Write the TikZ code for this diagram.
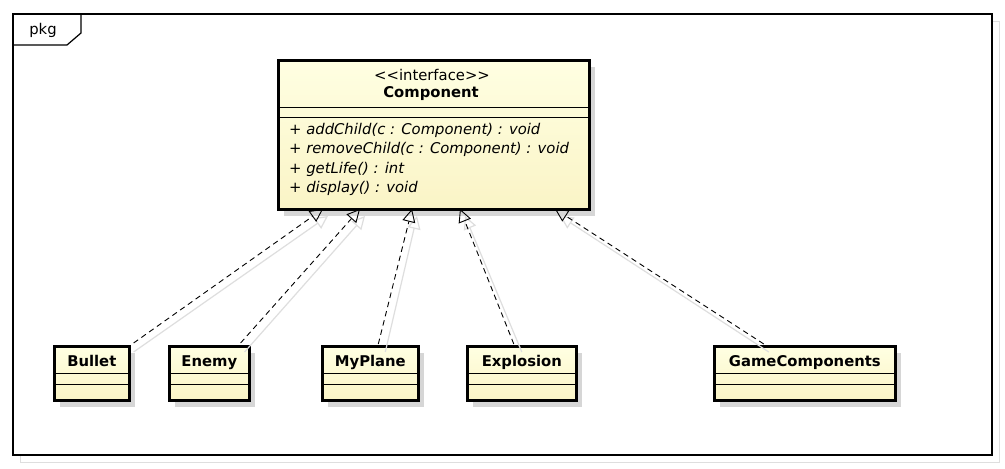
\documentclass[tikz,border=0pt]{standalone}
\usepackage{fontspec}
\setmainfont{DejaVu Sans}
\usetikzlibrary{arrows.meta,calc,positioning,shadows}

\definecolor{umltop}{RGB}{255,255,226}
\definecolor{umlbot}{RGB}{250,244,198}
\definecolor{umlshade}{RGB}{214,214,214}
\definecolor{faint}{RGB}{222,222,222}

\tikzset{
  classbox/.style={draw, line width=2.6pt, top color=umltop, bottom color=umlbot,
    inner sep=0pt, anchor=north west,
    drop shadow={shadow xshift=6pt, shadow yshift=-7pt, fill=umlshade, opacity=1}},
  sepline/.style={line width=0.9pt},
  boldtext/.style={font=\fontsize{14.8}{17}\selectfont\bfseries},
  realize/.style={dashed, line width=0.9pt, dash pattern=on 5.5pt off 4pt,
    -{Triangle[open, length=13pt, width=13pt, line width=0.9pt]}},
  realshadow/.style={faint, line width=1.2pt,
    -{Triangle[open, length=13pt, width=13pt, line width=1.2pt]}},
}

\begin{document}
\begin{tikzpicture}[x=1pt, y=-1pt, font=\fontsize{14.8}{17}\selectfont]
  \useasboundingbox (0,0) rectangle (1005,469);

  % package frame
  \draw[faint, line width=1pt] (20,21) rectangle (999,462);
  \draw[line width=1.4pt, fill=white] (13,14) rectangle (992,455);
  \draw[line width=1.2pt] (13,45) -- (67,45) -- (81,33) -- (81,14);
  \node (pkg) at (43,30) {pkg};

  % interface
  \node[classbox, minimum width=311pt, minimum height=149pt] (comp) at (277,59) {};
  \node (stereo) at (432,75) {<\kern0pt<interface>\kern0pt>};
  \node[boldtext] (compname) at (431,94) {Component};
  \draw[sepline] (comp.west |- 0,107) -- (comp.east |- 0,107);
  \draw[sepline] (comp.west |- 0,117) -- (comp.east |- 0,117);
  \node[anchor=north west, align=left, inner sep=0pt, font=\fontsize{14.8}{19.3}\selectfont\itshape]
    (ops) at (289,123) {+ addChild(c : Component) : void\\
      + removeChild(c : Component) : void\\
      + getLife() : int\\
      + display() : void};

  % classes
  \foreach \name/\x/\w/\txt in {bullet/53/75/Bullet, enemy/168/80/Enemy,
      myplane/321/96/MyPlane, explosion/466/109/Explosion,
      gamecomp/713/181/GameComponents}{
    \node[classbox, minimum width=\w pt, minimum height=54pt] (\name) at (\x,345) {};
    \node[boldtext, anchor=base] (\name-t) at ($(\name.north)+(0,21)$) {\txt};
    \draw[sepline] ($(\name.north west)+(0,28)$) -- ($(\name.north east)+(0,28)$);
    \draw[sepline] ($(\name.north west)+(0,39)$) -- ($(\name.north east)+(0,39)$);
  }

  % tips on the interface
  \coordinate (t1) at (323,209);
  \coordinate (t2) at (360,209);
  \coordinate (t3) at (412,209);
  \coordinate (t4) at (460,209);
  \coordinate (t5) at (555,209);

  % shadows of the links
  \draw[realshadow] ([shift={(3,7)}]bullet.north east) -- ([shift={(5,7)}]t1);
  \draw[realshadow] ([shift={(-6,7)}]enemy.north east) -- ([shift={(5,7)}]t2);
  \draw[realshadow] ([shift={(15,7)}]myplane.north) -- ([shift={(5,7)}]t3);
  \draw[realshadow] ([shift={(0,7)}]explosion.north) -- ([shift={(5,7)}]t4);
  \draw[realshadow] ([shift={(-36,7)}]gamecomp.north) -- ([shift={(5,7)}]t5);

  % realizations
  \draw[realize] ([shift={(3,-2)}]bullet.north east) -- (t1);
  \draw[realize] ([shift={(-10,-2)}]enemy.north east) -- (t2);
  \draw[realize] ([shift={(8,-1)}]myplane.north) -- (t3);
  \draw[realize] ([shift={(-8,-1)}]explosion.north) -- (t4);
  \draw[realize] ([shift={(-41,-1)}]gamecomp.north) -- (t5);
\end{tikzpicture}
\end{document}
